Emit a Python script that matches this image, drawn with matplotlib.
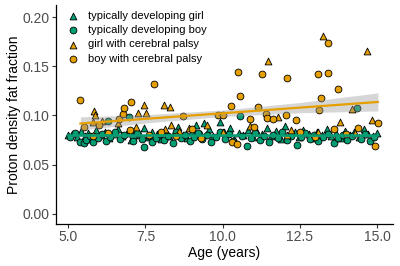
import matplotlib
matplotlib.use("Agg")
import matplotlib.pyplot as plt
import numpy as np

plt.rcParams["font.family"] = ["Liberation Sans", "DejaVu Sans"]

# ---- data ----
td_girl_x = [5.00, 5.12, 5.28, 5.41, 5.55, 5.63, 5.78, 5.90, 6.05, 6.18, 6.33, 6.47, 6.62, 6.74, 6.90,
             7.02, 7.15, 7.31, 7.44, 7.58, 7.72, 7.86, 8.01, 8.12, 8.27, 8.43, 8.55, 8.71, 8.86, 9.00,
             9.13, 9.30, 9.41, 9.57, 9.70, 9.92, 10.05, 10.23, 10.36, 10.52, 10.66, 10.81, 10.97, 11.10,
             11.26, 11.43, 11.58, 11.72, 11.88, 12.03, 12.17, 12.34, 12.48, 12.61, 12.79, 12.93, 13.06,
             13.22, 13.37, 13.52, 13.66, 13.83, 13.97, 14.12, 14.26, 14.43, 14.58, 14.71, 14.87, 15.00]
td_girl_y = [0.080, 0.081, 0.078, 0.084, 0.079, 0.082, 0.076, 0.085, 0.080, 0.083, 0.077, 0.081, 0.086,
             0.079, 0.082, 0.075, 0.084, 0.080, 0.087, 0.078, 0.083, 0.081, 0.076, 0.085, 0.079, 0.082,
             0.088, 0.080, 0.077, 0.084, 0.090, 0.081, 0.092, 0.086, 0.079, 0.0937, 0.083, 0.087, 0.076,
             0.082, 0.080, 0.085, 0.078, 0.083, 0.081, 0.087, 0.079, 0.084, 0.076, 0.089, 0.080, 0.083,
             0.078, 0.085, 0.081, 0.077, 0.083, 0.080, 0.086, 0.079, 0.082, 0.077, 0.084, 0.080, 0.083,
             0.078, 0.086, 0.081, 0.079, 0.082]

td_boy_x = [5.05, 5.22, 5.39, 5.50, 5.58, 5.69, 5.81, 5.95, 6.08, 6.22, 6.28, 6.36, 6.51, 6.66, 6.80,
            6.95, 7.08, 7.11, 7.24, 7.38, 7.46, 7.60, 7.71, 7.84, 7.97, 8.10, 8.24, 8.38, 8.50, 8.64,
            8.79, 8.93, 9.07, 9.21, 9.34, 9.49, 9.63, 9.78, 9.90, 10.08, 10.20, 10.35, 10.57, 10.62,
            10.80, 10.93, 11.06, 11.21, 11.35, 11.50, 11.64, 11.79, 11.93, 12.07, 12.22, 12.40, 12.53,
            12.67, 12.82, 12.96, 13.10, 13.25, 13.40, 13.60, 13.75, 13.89, 14.03, 14.18, 14.34, 14.48,
            14.62, 14.76, 14.90]
td_boy_y = [0.078, 0.082, 0.0734, 0.0718, 0.075, 0.079, 0.073, 0.077, 0.081, 0.074, 0.0948, 0.0785, 0.083,
            0.076, 0.080, 0.0985, 0.078, 0.074, 0.082, 0.076, 0.0683, 0.079, 0.0734, 0.077, 0.081, 0.075,
            0.079, 0.072, 0.083, 0.077, 0.080, 0.074, 0.078, 0.082, 0.076, 0.080, 0.073, 0.078, 0.083,
            0.076, 0.081, 0.074, 0.099, 0.079, 0.0694, 0.077, 0.082, 0.075, 0.079, 0.073, 0.080, 0.077,
            0.083, 0.075, 0.079, 0.070, 0.078, 0.082, 0.076, 0.080, 0.074, 0.078, 0.081, 0.0718, 0.077,
            0.080, 0.075, 0.079, 0.108, 0.076, 0.081, 0.074, 0.078]

cp_girl_x = [5.79, 5.82, 5.87, 6.08, 6.60, 7.20, 7.27, 7.46, 7.51, 8.10, 8.13, 8.31, 8.34, 8.59, 8.90,
             9.50, 10.00, 10.90, 11.46, 11.80, 12.10, 12.20, 13.10, 13.26, 13.80, 14.19, 14.30, 14.67, 14.84]
cp_girl_y = [0.093, 0.105, 0.101, 0.094, 0.092, 0.088, 0.1022, 0.111, 0.1028, 0.1107, 0.0863, 0.1083,
             0.0904, 0.084, 0.087, 0.090, 0.083, 0.089, 0.156, 0.098, 0.080, 0.085, 0.083, 0.181, 0.093,
             0.107, 0.082, 0.166, 0.095]

cp_boy_x = [5.39, 5.50, 5.80, 6.00, 6.30, 6.65, 6.76, 6.80, 7.00, 7.04, 7.60, 7.77, 8.00, 8.50, 8.72,
            9.00, 9.30, 9.85, 10.02, 10.27, 10.30, 10.46, 10.49, 10.57, 10.90, 11.00, 11.13, 11.27,
            11.40, 11.44, 11.63, 12.04, 12.10, 12.37, 12.50, 13.00, 13.10, 13.12, 13.19, 13.41, 13.42,
            13.60, 13.73, 14.00, 14.40, 14.94, 15.03]
cp_boy_y = [0.116, 0.088, 0.079, 0.090, 0.082, 0.096, 0.1015, 0.108, 0.085, 0.114, 0.080, 0.132, 0.083,
            0.079, 0.099, 0.086, 0.077, 0.100, 0.100, 0.110, 0.0734, 0.0711, 0.1445, 0.120, 0.096,
            0.088, 0.109, 0.142, 0.1015, 0.0975, 0.0964, 0.101, 0.138, 0.0954, 0.083, 0.078, 0.142,
            0.106, 0.118, 0.174, 0.143, 0.086, 0.127, 0.081, 0.087, 0.0694, 0.092]

# fitted lines and confidence bands
cp_fit_x = [5.39, 7.5, 10.0, 12.5, 15.03]
cp_fit_y = [0.0918, 0.0966, 0.1023, 0.1080, 0.1138]
cp_fit_half = [0.0068, 0.0042, 0.0033, 0.0052, 0.0092]
td_fit_x = [5.0, 10.0, 15.0]
td_fit_y = [0.0797, 0.0796, 0.0795]
td_fit_half = [0.0016, 0.0009, 0.0016]

labels = ["typically developing girl", "typically developing boy",
          "girl with cerebral palsy", "boy with cerebral palsy"]
x_ticks = [5.0, 7.5, 10.0, 12.5, 15.0]
y_ticks = [0.00, 0.05, 0.10, 0.15, 0.20]

TEAL = "#009E73"
ORANGE = "#E69F00"

fig = plt.figure(figsize=(4.0, 2.66), dpi=100)
ax = fig.add_axes([0.14, 0.158, 0.8425, 0.823])

kw = dict(s=24, edgecolors="black", linewidths=0.6, zorder=3)
ax.scatter(td_girl_x, td_girl_y, marker="^", c=TEAL, label=labels[0], **kw)
ax.scatter(td_boy_x, td_boy_y, marker="o", c=TEAL, label=labels[1], **kw)
ax.scatter(cp_girl_x, cp_girl_y, marker="^", c=ORANGE, label=labels[2], **kw)
ax.scatter(cp_boy_x, cp_boy_y, marker="o", c=ORANGE, label=labels[3], **kw)

cx = np.array(cp_fit_x); cy = np.array(cp_fit_y); ch = np.array(cp_fit_half)
tx = np.array(td_fit_x); ty = np.array(td_fit_y); th = np.array(td_fit_half)
ax.fill_between(tx, ty - th, ty + th, color="#999999", alpha=0.4, lw=0, zorder=4)
ax.fill_between(cx, cy - ch, cy + ch, color="#999999", alpha=0.4, lw=0, zorder=4)
ax.plot(tx, ty, color=TEAL, lw=1.8, zorder=5)
ax.plot(cx, cy, color=ORANGE, lw=1.6, zorder=5)

ax.set_xlim(4.6, 15.52)
ax.set_ylim(-0.0105, 0.2125)
ax.set_xticks(x_ticks)
ax.set_xticklabels([f"{v:.1f}" for v in x_ticks])
ax.set_yticks(y_ticks)
ax.set_yticklabels([f"{v:.2f}" for v in y_ticks])
for s in ["top", "right"]:
    ax.spines[s].set_visible(False)
for s in ["left", "bottom"]:
    ax.spines[s].set_linewidth(0.9)
ax.tick_params(axis="both", colors="#333333", labelcolor="#4D4D4D", labelsize=10,
               length=3, width=0.8, pad=1.5)
ax.set_xlabel("Age (years)", fontsize=10, labelpad=1.5)
ax.set_ylabel("Proton density fat fraction", fontsize=10, labelpad=1.5)

leg = ax.legend(loc="upper left", frameon=False, fontsize=8, handletextpad=0.9,
                handlelength=1.0, borderaxespad=0.0, labelspacing=0.4,
                bbox_to_anchor=(0.02, 0.995))

fig.savefig("out.png", dpi=100)
